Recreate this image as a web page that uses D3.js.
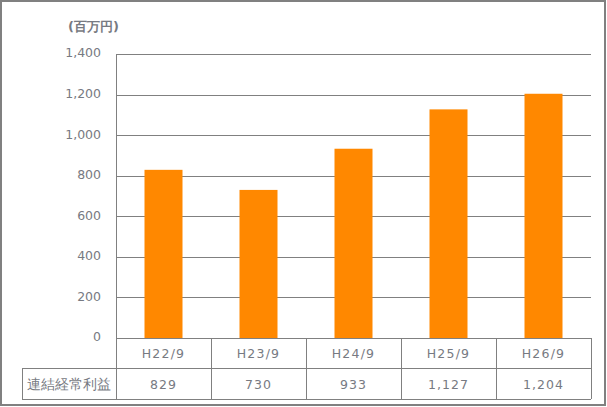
<!DOCTYPE html>
<html><head><meta charset="utf-8">
<script src="https://cdn.jsdelivr.net/npm/d3@7"></script>
<style>body{margin:0;background:#fff;}text{font-family:"DejaVu Sans",Verdana,sans-serif;}</style>
</head><body><svg id="c" width="607" height="407"></svg>
<script>
const categories = ["H22/9","H23/9","H24/9","H25/9","H26/9"];
const values = [829,730,933,1127,1204];
const valueLabels = ["829","730","933","1,127","1,204"];
const yTicks = [0,200,400,600,800,1000,1200,1400];
const seriesName = "連結経常利益";
const unitLabel = "(百万円)";

const svg = d3.select("#c");
const L = 116, R = 591, T = 54, B = 338;
const gray = "#808080", txt = "#777a82";
svg.append("rect").attr("x",1).attr("y",1).attr("width",604).attr("height",404)
  .attr("fill","#fff").attr("stroke",gray).attr("stroke-width",2);

const x = d3.scaleBand().domain(categories).range([L,R]).paddingInner(0).paddingOuter(0);
const y = d3.scaleLinear().domain([0,1400]).range([B,T]);

// gridlines
svg.append("g").selectAll("line").data(yTicks).join("line")
  .attr("x1",L).attr("x2",R).attr("y1",d=>Math.round(y(d))+0.5).attr("y2",d=>Math.round(y(d))+0.5)
  .attr("stroke",gray).attr("stroke-width",1);
svg.append("line").attr("x1",L+0.5).attr("x2",L+0.5).attr("y1",T).attr("y2",B).attr("stroke",gray);

// y labels
svg.append("g").selectAll("text").data(yTicks).join("text")
  .attr("x",101).attr("y",d=>y(d)-1).attr("dy","0.35em").attr("text-anchor","end")
  .attr("font-size",12.5).attr("fill",txt).text(d=>d3.format(",")(d));
svg.append("text").attr("x",68).attr("y",26.5).attr("dy","0.35em").attr("font-size",13)
  .attr("font-weight","bold").attr("fill",txt).text(unitLabel);

// bars
const bw = x.bandwidth()*0.4;
svg.append("g").selectAll("rect").data(values).join("rect")
  .attr("x",(d,i)=>x(categories[i])+x.bandwidth()/2-bw/2).attr("width",bw)
  .attr("y",d=>y(d)).attr("height",d=>B-y(d)).attr("fill","#ff8800");

// table
const r1 = B, r2 = 368, r3 = 399, tl = 22;
const tg = svg.append("g").attr("stroke",gray).attr("fill","none");
tg.append("line").attr("x1",L).attr("x2",R).attr("y1",r1+0.5).attr("y2",r1+0.5);
tg.append("line").attr("x1",tl).attr("x2",R).attr("y1",r2+0.5).attr("y2",r2+0.5);
tg.append("line").attr("x1",tl).attr("x2",R).attr("y1",r3+0.5).attr("y2",r3+0.5);
tg.append("line").attr("x1",tl+0.5).attr("x2",tl+0.5).attr("y1",r2).attr("y2",r3);
const bounds = categories.map(c=>x(c)).concat([R]);
tg.selectAll("line.v").data(bounds).join("line").attr("class","v")
  .attr("x1",d=>Math.round(d)+0.5).attr("x2",d=>Math.round(d)+0.5).attr("y1",r1).attr("y2",r3);

svg.append("g").selectAll("text").data(categories).join("text")
  .attr("x",d=>x(d)+x.bandwidth()/2).attr("y",(r1+r2)/2+1).attr("dy","0.35em")
  .attr("text-anchor","middle").attr("font-size",12.5).attr("fill",txt).attr("letter-spacing","1.2px").text(d=>d);
svg.append("g").selectAll("text").data(valueLabels).join("text")
  .attr("x",(d,i)=>x(categories[i])+x.bandwidth()/2).attr("y",(r2+r3)/2+1).attr("dy","0.35em")
  .attr("text-anchor","middle").attr("font-size",12.5).attr("fill",txt).attr("letter-spacing","1px").text(d=>d);
svg.append("text").attr("x",(tl+L)/2).attr("y",(r2+r3)/2+1).attr("dy","0.35em")
  .attr("text-anchor","middle").attr("font-size",13.8).attr("fill",txt).text(seriesName);
</script></body></html>
